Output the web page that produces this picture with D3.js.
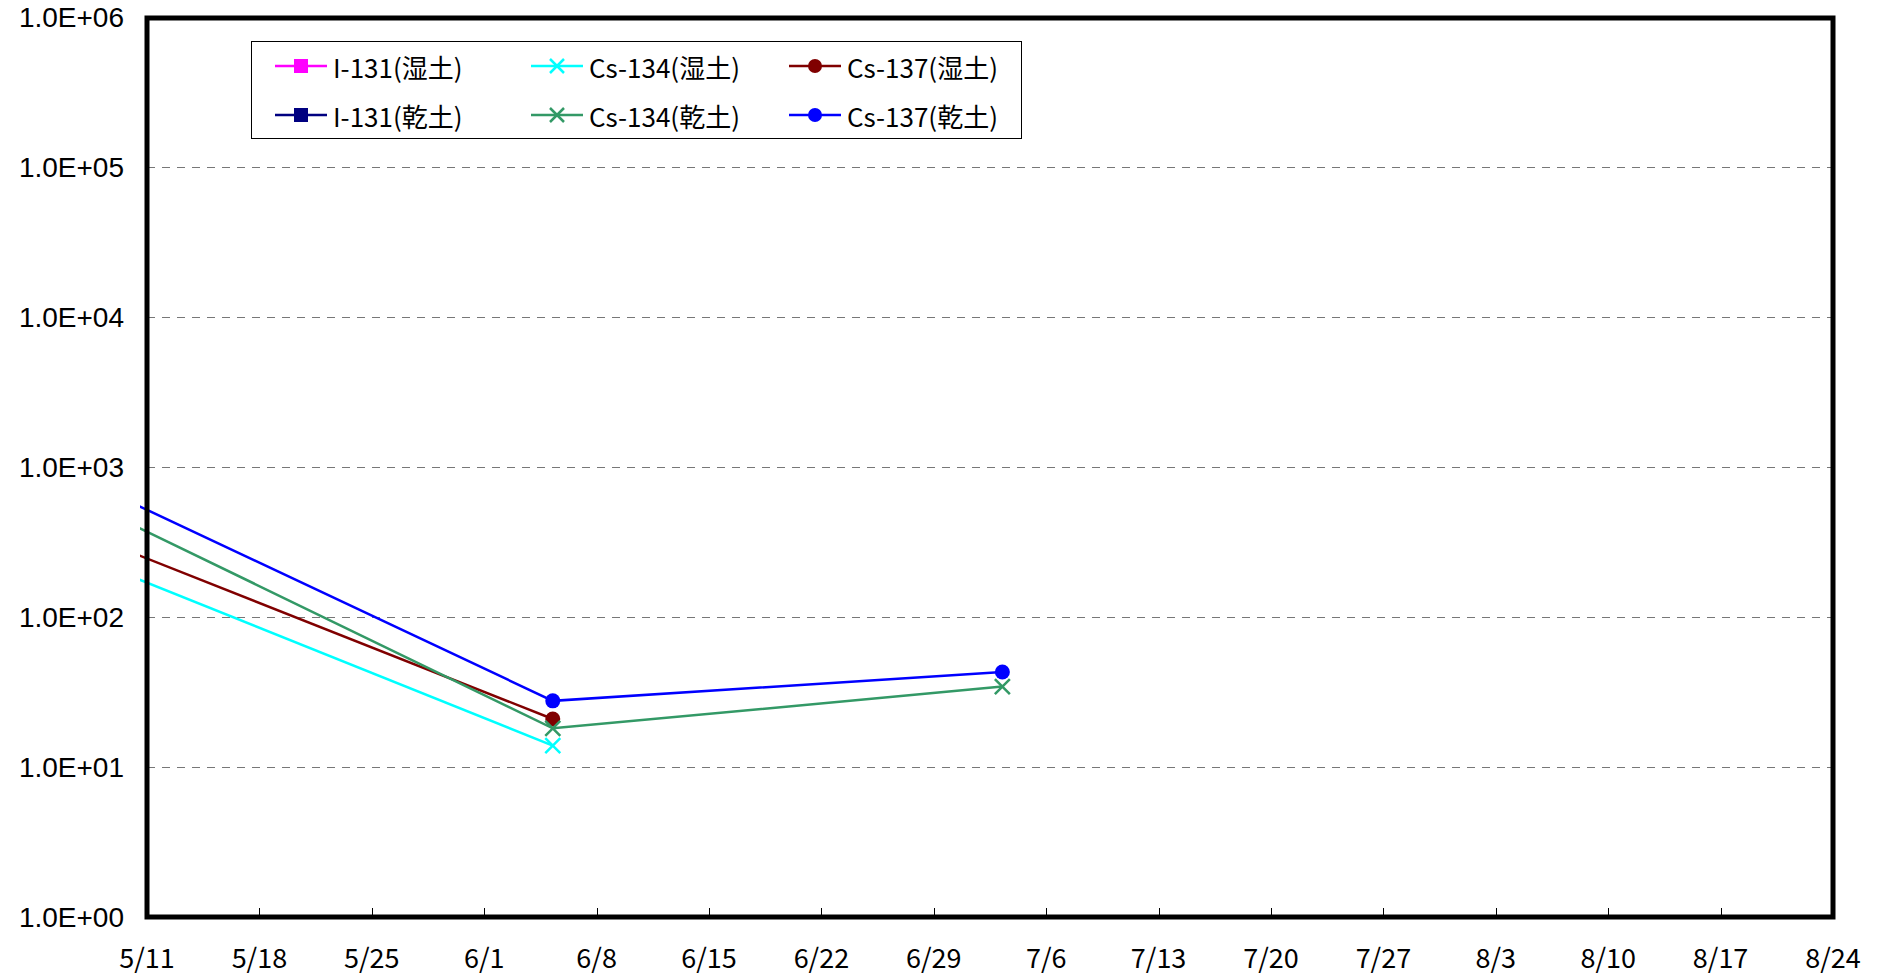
<!DOCTYPE html>
<html><head><meta charset="utf-8">
<script src="https://cdn.jsdelivr.net/npm/d3@7"></script>
<style>body{margin:0;background:#fff}svg{display:block}</style>
</head><body>
<svg id="c" width="1885" height="976"></svg>
<script>
// ---- data ----
const dates = ["2011-05-09T20:00", "2011-06-05T06:30", "2011-07-03T06:30"];
const i131Wet = [];
const i131Dry = [];
const cs134Wet = [190, 13.9];
const cs137Wet = [275, 20.9];
const cs134Dry = [426, 18.1, 34.4];
const cs137Dry = [593, 27.6, 43];
const xTickLabels = ["5/11","5/18","5/25","6/1","6/8","6/15","6/22","6/29","7/6","7/13","7/20","7/27","8/3","8/10","8/17","8/24"];
const yTickLabels = ["1.0E+00","1.0E+01","1.0E+02","1.0E+03","1.0E+04","1.0E+05","1.0E+06"];
const seriesNames = ["I-131(湿土)","Cs-134(湿土)","Cs-137(湿土)","I-131(乾土)","Cs-134(乾土)","Cs-137(乾土)"];

const series = [
  {name: seriesNames[0], values: i131Wet, color: "#FF00FF", marker: "square"},
  {name: seriesNames[1], values: cs134Wet, color: "#00FFFF", marker: "x"},
  {name: seriesNames[2], values: cs137Wet, color: "#800000", marker: "circle"},
  {name: seriesNames[3], values: i131Dry, color: "#000080", marker: "square"},
  {name: seriesNames[4], values: cs134Dry, color: "#339966", marker: "x"},
  {name: seriesNames[5], values: cs137Dry, color: "#0000FF", marker: "circle"}
];

const svg = d3.select("#c");
const L = 147, R = 1833, T = 17, B = 917;
const parse = d3.utcParse("%Y-%m-%d");
const parseT = d3.utcParse("%Y-%m-%dT%H:%M");
const x = d3.scaleUtc().domain([parse("2011-05-11"), parse("2011-08-24")]).range([L, R]);
const y = d3.scaleLog().domain([1, 1e6]).range([B, T]);

// gridlines
const gridVals = yTickLabels.map(t => +t);
svg.append("g").selectAll("line").data(gridVals.filter(v => v > 1 && v < 1e6)).join("line")
  .attr("x1", L).attr("x2", R).attr("y1", d => Math.round(y(d)) + 0.5).attr("y2", d => Math.round(y(d)) + 0.5)
  .attr("stroke", "#777").attr("stroke-width", 1).attr("stroke-dasharray", "8,7");

// y labels
svg.append("g").selectAll("text").data(yTickLabels).join("text")
  .attr("x", 124).attr("y", d => y(+d)).attr("dy", "0.36em")
  .attr("text-anchor", "end")
  .attr("font-family", "'Liberation Sans', Arial, sans-serif").attr("font-size", 28)
  .attr("fill", "#000").text(d => d);

// x ticks & labels
const tickDates = d3.range(xTickLabels.length).map(i => d3.utcDay.offset(parse("2011-05-11"), i * 7));
svg.append("g").selectAll("line").data(tickDates).join("line")
  .attr("x1", d => Math.round(x(d)) + 0.5).attr("x2", d => Math.round(x(d)) + 0.5).attr("y1", B).attr("y2", B - 9)
  .attr("stroke", "#000").attr("stroke-width", 1);
svg.append("g").selectAll("text").data(tickDates).join("text")
  .attr("x", d => x(d)).attr("y", 956).attr("dominant-baseline", "central")
  .attr("text-anchor", "middle")
  .attr("font-family", "'Noto Sans CJK JP', sans-serif").attr("font-size", 27)
  .attr("fill", "#000").text((d, i) => xTickLabels[i]);

// clip
svg.append("clipPath").attr("id", "clip").append("rect")
  .attr("x", 140).attr("y", T).attr("width", R - 140).attr("height", B - T);

const plot = svg.append("g").attr("clip-path", "url(#clip)");
const line = d3.line().x(d => x(d.date)).y(d => y(d.v));

function drawMarker(g, type, color, cx, cy, s) {
  if (type === "circle") {
    g.append("circle").attr("cx", cx).attr("cy", cy).attr("r", s).attr("fill", color);
  } else if (type === "square") {
    g.append("rect").attr("x", cx - s).attr("y", cy - s).attr("width", 2 * s).attr("height", 2 * s).attr("fill", color);
  } else {
    g.append("path").attr("d", `M${cx - s},${cy - s}L${cx + s},${cy + s}M${cx - s},${cy + s}L${cx + s},${cy - s}`)
      .attr("stroke", color).attr("stroke-width", 2.5).attr("fill", "none");
  }
}

series.forEach(s => {
  const pts = s.values.map((v, i) => ({date: parseT(dates[i]), v}));
  if (!pts.length) return;
  plot.append("path").datum(pts).attr("d", line)
    .attr("fill", "none").attr("stroke", s.color).attr("stroke-width", 2.5);
  pts.forEach(p => drawMarker(plot, s.marker, s.color, x(p.date), y(p.v), 7.5));
});

// frame
svg.append("rect").attr("x", L).attr("y", T + 1).attr("width", R - L).attr("height", B - T - 1)
  .attr("fill", "none").attr("stroke", "#000").attr("stroke-width", 5);

// legend
const lg = svg.append("g");
lg.append("rect").attr("x", 251.5).attr("y", 41.5).attr("width", 770).attr("height", 97)
  .attr("fill", "#fff").attr("stroke", "#000").attr("stroke-width", 1);
const colX = [275, 531, 789];
const rowY = [66, 115];
series.forEach((s, i) => {
  const cx = colX[i % 3], cy = rowY[Math.floor(i / 3)];
  lg.append("line").attr("x1", cx).attr("x2", cx + 52).attr("y1", cy).attr("y2", cy)
    .attr("stroke", s.color).attr("stroke-width", 2.5);
  drawMarker(lg, s.marker, s.color, cx + 26, cy, 7);
  lg.append("text").attr("x", cx + 58).attr("y", cy).attr("dominant-baseline", "central")
    .attr("font-family", "'Noto Sans CJK JP', sans-serif").attr("font-size", 26)
    .attr("fill", "#000").text(s.name);
});
</script>
</body></html>
